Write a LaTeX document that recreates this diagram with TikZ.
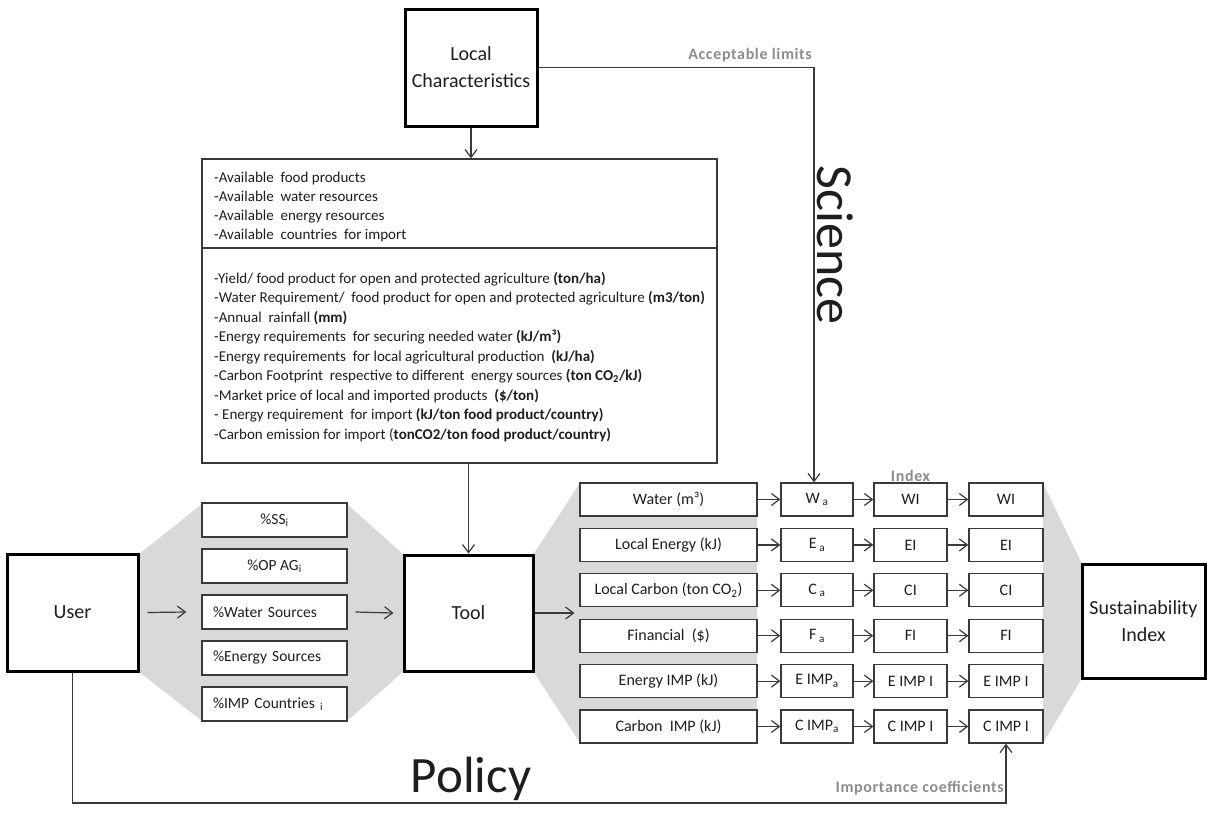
\documentclass[tikz,border=0pt]{standalone}
\usepackage{fontspec}
\setmainfont{Carlito}
\newfontfamily\lblfont[LetterSpace=4]{Carlito}
\usetikzlibrary{arrows.meta,calc}
\definecolor{hexgray}{HTML}{D9D9D9}
\definecolor{lblgray}{HTML}{8C8C8C}
\definecolor{linec}{HTML}{3A3A3A}
\definecolor{txt}{HTML}{1E1E1E}
\begin{document}
\begin{tikzpicture}[x=1pt,y=-1pt,
  >={Straight Barb[length=8pt,width=12pt]},
  bigbox/.style={draw=black, line width=3pt, fill=white, text=txt, font=\fontsize{20}{27}\selectfont, align=center, inner sep=0pt},
  smallbox/.style={draw=linec, line width=1.3pt, fill=white, text=txt, minimum height=33pt, inner sep=0pt, font=\fontsize{16}{18}\selectfont},
  leftbox/.style={smallbox, minimum width=145pt, minimum height=34pt, font=\fontsize{15.5}{18}\selectfont},
  conn/.style={draw=linec, line width=1.2pt},
  note/.style={font=\lblfont\bfseries\fontsize{16}{18}\selectfont, text=lblgray, inner sep=0pt},
  infoline/.style={anchor=base west, inner sep=0pt, text=txt, font=\fontsize{15}{19}\selectfont},
]
\useasboundingbox (0,0) rectangle (1207,814);

% gray hexagons
\fill[hexgray] (202,504) -- (347,504) -- (404,555) -- (404,671) -- (347,721) -- (202,721) -- (138,671) -- (138,555) -- cycle;
\fill[hexgray] (580,483) -- (757,483) -- (757,743) -- (580,743) -- (533,671) -- (533,555) -- cycle;
\fill[hexgray] (1043,483) -- (1082,564) -- (1082,678) -- (1043,743) -- cycle;

% main boxes
\node[bigbox, minimum width=132pt, minimum height=117pt] (lc) at (471,67.5) {Local\\Characteristics};
\node[bigbox, minimum width=131pt, minimum height=117pt] (user) at (72.5,612.5) {User};
\node[bigbox, minimum width=129pt, minimum height=116pt] (tool) at (468.5,613) {Tool};
\node[bigbox, minimum width=123pt, minimum height=114pt] (si) at (1143.5,621) {Sustainability\\Index};

% info box
\node[draw=linec, line width=1.3pt, fill=white, minimum width=515pt, minimum height=304pt, inner sep=0pt] (info) at (459.5,311) {};
\coordinate (sepy) at (0,248);
\draw[draw=linec, line width=1.3pt] (info.west |- sepy) -- (info.east |- sepy);

\foreach \t [count=\i] in {%
  {-Available\ \ food products},
  {-Available\ \ water resources},
  {-Available\ \ energy resources},
  {-Available\ \ countries\ \ for import}}
  \node[infoline] (ga\i) at (214,{182+(\i-1)*19}) {\t};

\foreach \t [count=\i] in {%
  {-Yield/ food product for open and protected agriculture \textbf{(ton/ha)}},
  {-Water Requirement/\ \ food product for open and protected agriculture \textbf{(m3/ton)}},
  {-Annual\ \ rainfall \textbf{(mm)}},
  {-Energy requirements\ \ for securing needed water \textbf{(kJ/m³)}},
  {-Energy requirements\ \ for local agricultural production\ \ \textbf{(kJ/ha)}},
  {-Carbon Footprint\ \ respective to different\ \ energy sources \textbf{(ton CO\textsubscript{2}/kJ)}},
  {-Market price of local and imported products\ \ \textbf{(\$/ton)}},
  {- Energy requirement\ \ for import \textbf{(kJ/ton food product/country)}},
  {-Carbon emission for import (\textbf{tonCO2/ton food product/country)}}}
  \node[infoline] (gb\i) at (214,{283+(\i-1)*19.5}) {\t};

% left small boxes
\node[leftbox] (b1) at (274.5,520) {\%SS\textsubscript{i}};
\node[leftbox] (b2) at (274.5,566) {\%OP AG\textsubscript{i}};
\node[leftbox, text width=123pt, align=left] (b3) at (274.5,612) {\%Water Sources};
\node[leftbox, text width=123pt, align=left] (b4) at (274.5,658) {\%Energy Sources};
\node[leftbox, text width=123pt, align=left] (b5) at (274.5,704) {\%IMP Countries \textsubscript{i}};

% right grid
\foreach \a/\b/\c/\d [count=\k] in {%
  {Water (m³)}/{W\,\textsubscript{a}}/{WI}/{WI},
  {Local Energy (kJ)}/{E\,\textsubscript{a}}/{EI}/{EI},
  {Local Carbon (ton CO\textsubscript{2})}/{C\,\textsubscript{a}}/{CI}/{CI},
  {Financial\ \ (\$)}/{F\,\textsubscript{a}}/{FI}/{FI},
  {Energy IMP (kJ)}/{E IMP\textsubscript{a}}/{E IMP I}/{E IMP I},
  {Carbon\ \ IMP (kJ)}/{C IMP\textsubscript{a}}/{C IMP I}/{C IMP I}}
{
  \node[smallbox, minimum width=177pt] (c1\k) at (668.5,{499.5+(\k-1)*45.4}) {\a};
  \node[smallbox, minimum width=72pt] (c2\k) at (817,{499.5+(\k-1)*45.4}) {\b};
  \node[smallbox, minimum width=73pt] (c3\k) at (910.5,{499.5+(\k-1)*45.4}) {\c};
  \node[smallbox, minimum width=74pt] (c4\k) at (1006,{499.5+(\k-1)*45.4}) {\d};
  \draw[conn,->] (c1\k.east) -- (c2\k.west);
  \draw[conn,->] (c2\k.east) -- (c3\k.west);
  \draw[conn,->] (c3\k.east) -- (c4\k.west);
}

% labels
\node[note, anchor=base] (idx) at (910.5,481) {Index};
\node[note, anchor=base east] (acc) at (812,59) {Acceptable limits};
\node[note, anchor=base east] (imp) at (1004,792) {Importance coefficients};
\node[font=\fontsize{52}{60}\selectfont, text=txt, rotate=-90, inner sep=0pt] (sci) at (835,245) {Science};
\node[font=\fontsize{51}{60}\selectfont, text=txt, anchor=base, inner sep=0pt] (pol) at (471,792) {Policy};

% connectors
\draw[conn,->] (lc.south) -- (lc.south |- info.north);
\draw[conn,->] (tool.north |- info.south) -- (tool.north);
\draw[conn,->] (lc.east) -| ([xshift=-3pt]c21.north);
\draw[conn,->] ([xshift=8pt]user.east) -- ([xshift=-15pt]b3.west);
\draw[conn,->] ([xshift=8pt]b3.east) -- ([xshift=-9pt]tool.west);
\draw[conn,->] (tool.east) -- ([xshift=40pt]tool.east);
\coordinate (polc) at (73,803);
\draw[conn,->] (user.south) -- (user.south |- polc) -| (c46.south);
\end{tikzpicture}
\end{document}
